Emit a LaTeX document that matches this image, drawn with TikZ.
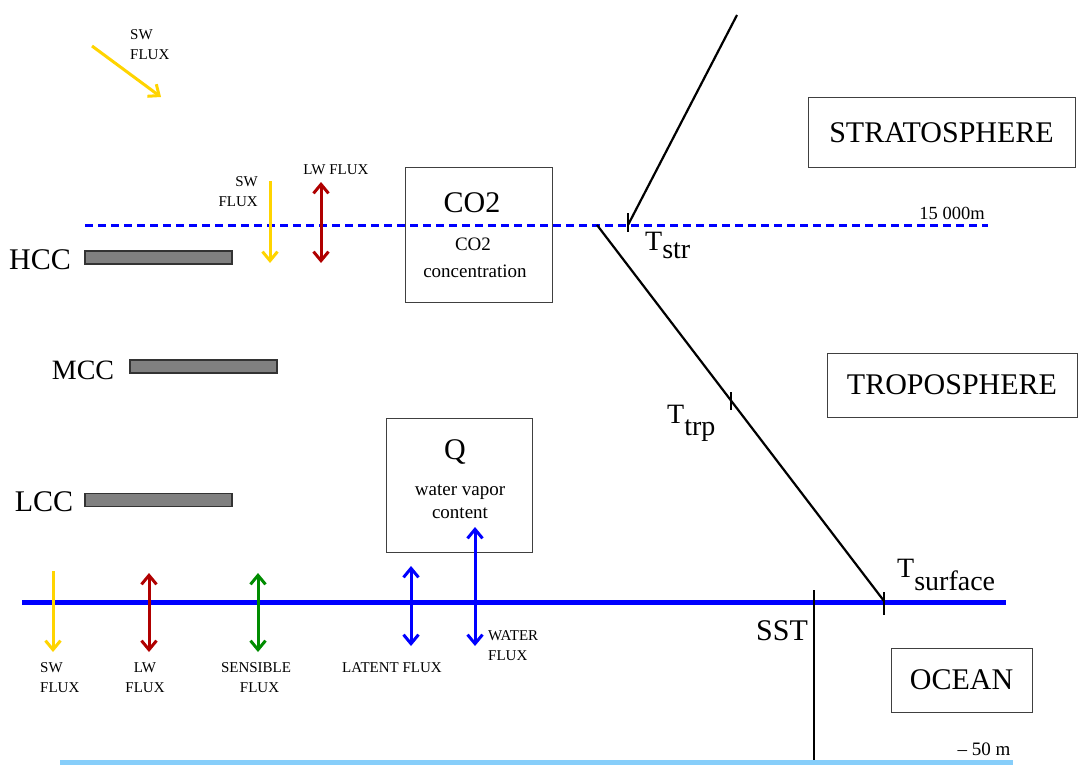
\documentclass[tikz,border=0pt]{standalone}
\usepackage{fontspec}
\setmainfont{Liberation Serif}
\usetikzlibrary{arrows.meta}
\definecolor{swy}{RGB}{255,212,0}
\definecolor{lwr}{RGB}{176,0,0}
\definecolor{sng}{RGB}{0,140,0}
\definecolor{pureblue}{RGB}{0,0,255}
\definecolor{deepblue}{RGB}{135,206,250}
\definecolor{bargray}{RGB}{128,128,128}
\newcommand{\fsz}[1]{\fontsize{#1}{20}\selectfont}
\newcommand{\Tlab}[2]{T\raisebox{-#1pt}{#2}}
\begin{document}
\begin{tikzpicture}[x=1pt,y=-1pt,
  down/.style={line width=3pt,-{Straight Barb[length=9pt,width=15pt]}},
  both/.style={line width=3pt,{Straight Barb[length=9pt,width=15pt]}-{Straight Barb[length=9pt,width=15pt]}},
  big/.style={font=\fsz{30}, inner sep=0pt},
  med/.style={font=\fsz{19}, inner sep=0pt},
  small/.style={font=\fsz{15}, inner sep=0pt, align=center},
  tlab/.style={font=\fsz{28}, inner sep=0pt, anchor=base west},
  box/.style={draw=black!75, line width=1pt, inner sep=0pt},
  bar/.style={draw=black!80, fill=bargray, line width=1.3pt, inner sep=0pt, minimum height=13},
  profile/.style={line width=2.2pt, black},
  tick/.style={line width=1.2pt, black}]
\useasboundingbox (0,0) rectangle (1078,765);

% --- reference levels ---
\coordinate (dashL) at (85,225);
\coordinate (dashR) at (988,225);
\draw[pureblue, line width=3pt, dash pattern=on 8pt off 5pt] (dashL) -- (dashR);
\coordinate (seaL) at (22,602);
\coordinate (seaR) at (1006,602);
\draw[pureblue, line width=5pt] (seaL) -- (seaR);
\coordinate (deepL) at (60,762);
\coordinate (deepR) at (1013,762);
\draw[deepblue, line width=5pt] (deepL) -- (deepR);

\node[font=\fsz{18.5}, inner sep=0pt] (h15) at (952,213) {15 000m};
\node[font=\fsz{19}, inner sep=0pt] (h50) at (984,749) {– 50 m};

% --- region boxes ---
\node[box, minimum width=267, minimum height=69, font=\fsz{30}] (strat) at (941.5,132.5) {STRATOSPHERE};
\node[box, minimum width=250, minimum height=64, font=\fsz{30}] (trop) at (952,385) {TROPOSPHERE};
\node[box, minimum width=141, minimum height=64, font=\fsz{30}] (ocean) at (961.5,680) {OCEAN};

% --- CO2 box ---
\node[box, minimum width=147, minimum height=135] (co2box) at (478.5,235) {};
\node[big] (co2big) at (472,203) {CO2};
\node[med] (co2small) at (473,244) {CO2};
\node[med, anchor=base] (co2conc) at (475,277) {concentration};

% --- Q box ---
\node[box, minimum width=146, minimum height=134] (qbox) at (459,485) {};
\node[big] (qlab) at (455,452) {Q};
\node[med, anchor=base] (wv) at (460,495) {water vapor};
\node[med, anchor=base] (wc) at (460,518) {content};

% --- cloud layers ---
\node[bar, minimum width=147] (hccbar) at (158.5,257.5) {};
\node[bar, minimum width=147] (mccbar) at (203.5,366.5) {};
\node[bar, minimum width=147] (lccbar) at (158.5,500) {};
\node[big] (hcc) at (40,260) {HCC};
\node[big, font=\fsz{28}] (mcc) at (83,370) {MCC};
\node[big] (lcc) at (44,502) {LCC};

% --- temperature profile ---
\coordinate (ptop) at (737,15);
\coordinate (pstr) at (628,225);
\coordinate (ptrop) at (597,225);
\coordinate (psurf) at (884,601);
\draw[profile] (ptop) -- (pstr);
\draw[profile] (ptrop) -- (psurf);
\coordinate (tk1a) at (628,213); \coordinate (tk1b) at (628,232);
\coordinate (tk2a) at (731,392); \coordinate (tk2b) at (731,410);
\coordinate (tk3a) at (884,592); \coordinate (tk3b) at (884,615);
\draw[tick] (tk1a) -- (tk1b);
\draw[tick] (tk2a) -- (tk2b);
\draw[tick] (tk3a) -- (tk3b);
\node[tlab] (tstr) at (645,250) {\Tlab{8}{str}};
\node[tlab] (ttrp) at (667,423) {\Tlab{12}{trp}};
\node[tlab] (tsurf) at (897,577) {\Tlab{13}{surface}};

% --- SST ---
\coordinate (sstT) at (814,590);
\coordinate (sstB) at (814,760);
\draw[line width=2.2pt] (sstT) -- (sstB);
\node[big] (sst) at (782,631) {SST};

% --- top of atmosphere SW flux ---
\coordinate (sw0a) at (92,46);
\coordinate (sw0b) at (161,97);
\draw[down, swy] (sw0a) -- (sw0b);
\node[small, align=left, anchor=west] (sw0) at (130,45) {SW\\FLUX};

% --- fluxes at 15000 m ---
\coordinate (sw1a) at (270,181);
\coordinate (sw1b) at (270,263);
\draw[down, swy] (sw1a) -- (sw1b);
\node[small, align=right, anchor=east] (sw1) at (258,191.5) {SW\\FLUX};
\coordinate (lw1a) at (321,182);
\coordinate (lw1b) at (321,263);
\draw[both, lwr] (lw1a) -- (lw1b);
\node[small] (lw1) at (336,170) {LW FLUX};

% --- surface fluxes ---
\coordinate (sw2a) at (53,571);
\coordinate (sw2b) at (53,652);
\draw[down, swy] (sw2a) -- (sw2b);
\node[small, align=left, anchor=west] (sw2) at (40,678) {SW\\FLUX};
\coordinate (lw2a) at (149,573);
\coordinate (lw2b) at (149,652);
\draw[both, lwr] (lw2a) -- (lw2b);
\node[small] (lw2) at (145,678) {LW\\FLUX};
\coordinate (sh2a) at (258,573);
\coordinate (sh2b) at (258,652);
\draw[both, sng] (sh2a) -- (sh2b);
\node[small] (sh2) at (256,678) {SENSIBLE\\\hspace*{7pt}FLUX};
\coordinate (lh2a) at (411,566);
\coordinate (lh2b) at (411,646);
\draw[both, pureblue] (lh2a) -- (lh2b);
\node[small] (lh2) at (392,668) {LATENT FLUX};
\coordinate (wf2a) at (475,527);
\coordinate (wf2b) at (475,646);
\draw[both, pureblue] (wf2a) -- (wf2b);
\node[small, align=left, anchor=west] (wf2) at (488,646) {WATER\\FLUX};
\end{tikzpicture}
\end{document}
